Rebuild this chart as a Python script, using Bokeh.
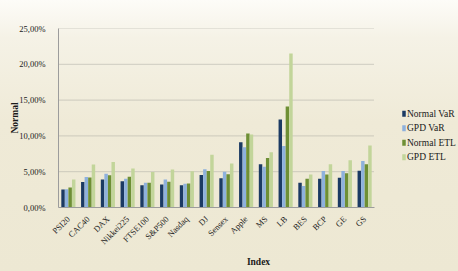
from math import pi

from bokeh.plotting import figure
from bokeh.models import ColumnDataSource, Range1d, FixedTicker
from bokeh.core.properties import value
from bokeh.transform import dodge
from bokeh.embed import file_html
from bokeh.resources import INLINE

# Risk measures (in %) per index / stock
indices = ["PSI20", "CAC40", "DAX", "Nikkei225", "FTSE100", "S&P500", "Nasdaq", "DJ",
           "Sensex", "Apple", "MS", "LB", "BES", "BCP", "GE", "GS"]
normal_var = [2.52, 3.55, 3.90, 3.65, 3.10, 3.20, 3.10, 4.55, 4.10, 9.10, 6.05, 12.30, 3.45, 4.00, 4.15, 5.15]
gpd_var = [2.55, 4.25, 4.70, 4.00, 3.45, 3.90, 3.30, 5.35, 5.00, 8.40, 5.70, 8.60, 3.00, 5.10, 5.10, 6.50]
normal_etl = [2.80, 4.20, 4.50, 4.30, 3.45, 3.60, 3.35, 5.10, 4.65, 10.35, 6.90, 14.10, 4.00, 4.60, 4.80, 6.05]
gpd_etl = [3.90, 6.00, 6.35, 5.45, 4.95, 5.30, 5.05, 7.35, 6.15, 10.20, 7.70, 21.50, 4.60, 6.05, 6.60, 8.65]

series_names = ["Normal VaR", "GPD VaR", "Normal ETL", "GPD ETL"]
y_ticks = [0, 5, 10, 15, 20, 25]
y_tick_labels = ["0,00%", "5,00%", "10,00%", "15,00%", "20,00%", "25,00%"]

colors = ["#1B3A63", "#8EB1DD", "#6E8F35", "#C2D59A"]
FONT = "Liberation Serif"

n = len(indices)
positions = list(range(n))
source = ColumnDataSource(dict(pos=positions, nv=normal_var, gv=gpd_var, ne=normal_etl, ge=gpd_etl))

# frame geometry (px); the frame also holds the legend column right of the bars
FRAME_LEFT, FRAME_TOP, FRAME_H = 58, 28, 179
frame_w = 400
cat_px = 316 / n
x_lo = -0.5
x_hi = x_lo + frame_w / cat_px
y_max = 25


def px_to_x(sx):
    return x_lo + (sx - FRAME_LEFT) / cat_px


def px_to_y(sy):
    return (FRAME_TOP + FRAME_H - sy) / FRAME_H * y_max


p = figure(
    x_range=Range1d(x_lo, x_hi),
    y_range=Range1d(0, y_max),
    output_backend="svg", toolbar_location=None,
    min_border_left=FRAME_LEFT, min_border_right=0, min_border_top=FRAME_TOP, min_border_bottom=64,
)
p.frame_width = frame_w
p.frame_height = FRAME_H
p.styles = {"background": "linear-gradient(180deg, #FDFCF8 0%, #F5F2E6 14%, #EFEAD7 45%, #EDE8D3 100%)"}
p.background_fill_color = None
p.border_fill_color = None
p.outline_line_color = None

# dotted horizontal grid limited to the category area
grid_y = y_ticks[1:]
p.segment(x0=[x_lo] * len(grid_y), x1=[n - 0.5] * len(grid_y), y0=grid_y, y1=grid_y,
          line_color="#A8A8A0", line_dash="1 1", line_width=1)

offsets = [-0.27, -0.09, 0.09, 0.27]
for col, off, color in zip(["nv", "gv", "ne", "ge"], offsets, colors):
    p.vbar(x=dodge("pos", off), top=col, width=0.175, bottom=0,
           source=source, fill_color=color, line_color=None)

# axes
p.yaxis.ticker = FixedTicker(ticks=y_ticks)
p.yaxis.major_label_overrides = {t: l for t, l in zip(y_ticks, y_tick_labels)}
p.xaxis.ticker = FixedTicker(ticks=positions)
p.xaxis.major_label_overrides = {i: name for i, name in zip(positions, indices)}
p.xaxis.bounds = (x_lo, n - 0.5)
p.yaxis.axis_label = "Normal"
p.xaxis.axis_label = "Index"
for ax in (p.xaxis[0], p.yaxis[0]):
    ax.axis_line_color = "#9C9C9C"
    ax.major_tick_line_color = None
    ax.minor_tick_line_color = None
    ax.major_label_text_font = FONT
    ax.major_label_text_font_size = "8.5px"
    ax.major_label_text_color = "#1A1A1A"
    ax.axis_label_text_font = FONT
    ax.axis_label_text_font_size = "9.5px"
    ax.axis_label_text_font_style = "bold"
    ax.axis_label_text_color = "#1A1A1A"
p.yaxis.major_label_standoff = 7
p.yaxis.axis_label_standoff = -4
p.xaxis.major_label_orientation = pi / 4
p.xaxis.major_label_standoff = 4
p.xaxis.axis_label_standoff = 4

p.xgrid.visible = False
p.ygrid.visible = False

# legend column: small colour keys with series names
row_px = [113.3, 127.7, 142.3, 156.8]
key_x = px_to_x(403.5)
text_x = px_to_x(406.5)
row_y = [px_to_y(sy) for sy in row_px]
p.rect(x=[key_x] * 4, y=row_y, width=3.5, height=6, width_units="screen", height_units="screen",
       fill_color=colors, line_color=None)
p.text(x=[text_x] * 4, y=row_y, text=series_names, text_font=value(FONT),
       text_font_size="9.5px", text_baseline="middle", text_align="left", text_color="#1A1A1A")

open("out.html", "w").write(file_html(p, INLINE))
